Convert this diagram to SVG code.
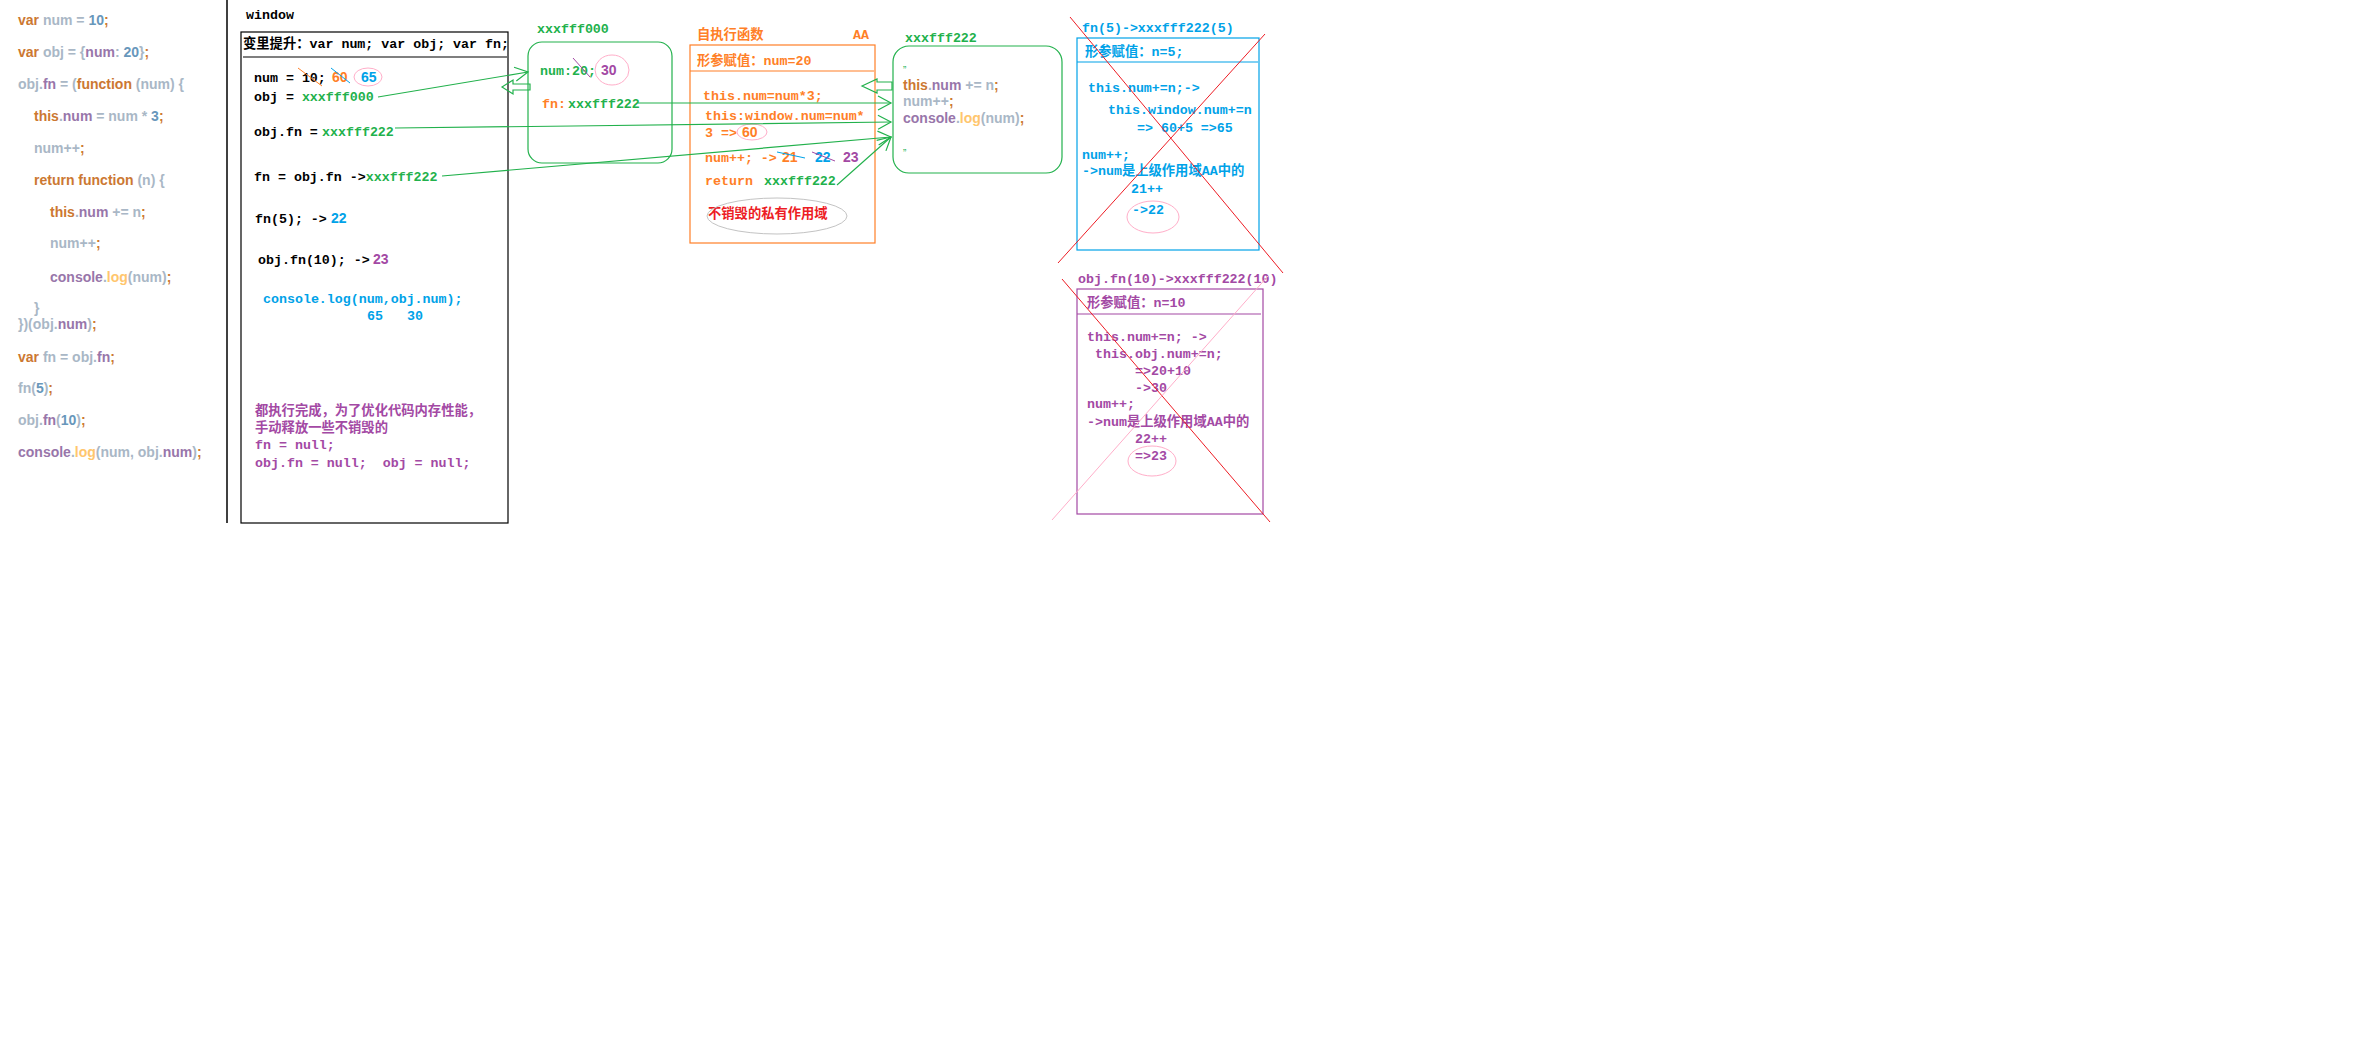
<svg xmlns="http://www.w3.org/2000/svg" width="2374" height="1054" viewBox="0 0 2374 1054">
  <style>
    text { white-space: pre; }
    .code { font-family: "Liberation Sans", Arial, sans-serif; font-weight: bold; font-size: 14px; }
    .kw { fill: #cc7832; }
    .tx { fill: #a9b7c6; }
    .nu { fill: #6897bb; }
    .pr { fill: #9876aa; }
    .fc { fill: #ffc66d; }
    .m { font-family: "Liberation Mono", "Noto Sans CJK SC", monospace; font-weight: bold; font-size: 13.3px; }
    .s { font-family: "Liberation Sans", Arial, sans-serif; font-weight: bold; font-size: 14px; }
    .blk { fill: #000000; }
    .grn { fill: #22b14c; }
    .org { fill: #ff7f27; }
    .blu { fill: #00a2e8; }
    .pur { fill: #a349a4; }
    .red { fill: #ed1c24; }
    .ring { fill: none; stroke: #ffaec9; stroke-width: 1; }
    .link { fill: none; stroke: #22b14c; stroke-width: 1.2; }
    .cross { stroke: #ed1c24; stroke-width: 1; }
  </style>
  <defs>
    <marker id="open" viewBox="-14 -8 16 16" refX="0" refY="0" markerWidth="16" markerHeight="16" markerUnits="userSpaceOnUse" orient="auto">
      <path d="M-13,-7 L0,0 L-13,7" fill="none" stroke="#22b14c" stroke-width="1.2"/>
    </marker>
  </defs>
  <rect width="2374" height="1054" fill="#ffffff"/>

  <!-- source code listing -->
  <g id="source">
    <text class="code" x="18" y="25"><tspan class="kw">var</tspan><tspan class="tx"> num = </tspan><tspan class="nu">10</tspan><tspan class="kw">;</tspan></text>
    <text class="code" x="18" y="57"><tspan class="kw">var</tspan><tspan class="tx"> obj = {</tspan><tspan class="pr">num</tspan><tspan class="tx">: </tspan><tspan class="nu">20</tspan><tspan class="tx">}</tspan><tspan class="kw">;</tspan></text>
    <text class="code" x="18" y="89"><tspan class="tx">obj.</tspan><tspan class="pr">fn</tspan><tspan class="tx"> = (</tspan><tspan class="kw">function</tspan><tspan class="tx"> (num) {</tspan></text>
    <text class="code" x="34" y="121"><tspan class="kw">this</tspan><tspan class="tx">.</tspan><tspan class="pr">num</tspan><tspan class="tx"> = num * </tspan><tspan class="nu">3</tspan><tspan class="kw">;</tspan></text>
    <text class="code" x="34" y="153"><tspan class="tx">num++</tspan><tspan class="kw">;</tspan></text>
    <text class="code" x="34" y="185"><tspan class="kw">return function</tspan><tspan class="tx"> (n) {</tspan></text>
    <text class="code" x="50" y="217"><tspan class="kw">this</tspan><tspan class="tx">.</tspan><tspan class="pr">num</tspan><tspan class="tx"> += n</tspan><tspan class="kw">;</tspan></text>
    <text class="code" x="50" y="248"><tspan class="tx">num++</tspan><tspan class="kw">;</tspan></text>
    <text class="code" x="50" y="282"><tspan class="pr">console</tspan><tspan class="tx">.</tspan><tspan class="fc">log</tspan><tspan class="tx">(num)</tspan><tspan class="kw">;</tspan></text>
    <text class="code" x="34" y="313"><tspan class="tx">}</tspan></text>
    <text class="code" x="18" y="329"><tspan class="tx">})(obj.</tspan><tspan class="pr">num</tspan><tspan class="tx">)</tspan><tspan class="kw">;</tspan></text>
    <text class="code" x="18" y="362"><tspan class="kw">var</tspan><tspan class="tx"> fn = obj.</tspan><tspan class="pr">fn</tspan><tspan class="kw">;</tspan></text>
    <text class="code" x="18" y="393"><tspan class="tx">fn(</tspan><tspan class="nu">5</tspan><tspan class="tx">)</tspan><tspan class="kw">;</tspan></text>
    <text class="code" x="18" y="425"><tspan class="tx">obj.</tspan><tspan class="pr">fn</tspan><tspan class="tx">(</tspan><tspan class="nu">10</tspan><tspan class="tx">)</tspan><tspan class="kw">;</tspan></text>
    <text class="code" x="18" y="457"><tspan class="pr">console</tspan><tspan class="tx">.</tspan><tspan class="fc">log</tspan><tspan class="tx">(num, obj.</tspan><tspan class="pr">num</tspan><tspan class="tx">)</tspan><tspan class="kw">;</tspan></text>
    <line x1="227" y1="0" x2="227" y2="523" stroke="#000000" stroke-width="1.5"/>
  </g>

  <!-- global scope -->
  <g id="window">
    <text class="m blk" x="246" y="19">window</text>
    <rect x="241" y="32" width="267" height="491" fill="none" stroke="#000000" stroke-width="1.2"/>
    <text class="m blk" x="243" y="48">变里提升：var num; var obj; var fn;</text>
    <line x1="243" y1="57" x2="507" y2="57" stroke="#000000" stroke-width="1.2"/>
    <text class="m blk" x="254" y="82">num = 10;</text>
    <line x1="298" y1="68" x2="322" y2="86" stroke="#ff7f27" stroke-width="1"/>
    <text class="s org" x="332" y="82">60</text>
    <line x1="331" y1="68" x2="350" y2="83" stroke="#00a2e8" stroke-width="1"/>
    <text class="s blu" x="361" y="82">65</text>
    <ellipse class="ring" cx="368" cy="77" rx="14" ry="9"/>
    <text class="m blk" x="254" y="101">obj = <tspan class="grn">xxxfff000</tspan></text>
    <text class="m blk" x="254" y="136">obj.fn =</text>
    <text class="m grn" x="322" y="136">xxxfff222</text>
    <text class="m blk" x="254" y="181">fn = obj.fn -&gt;<tspan class="grn">xxxfff222</tspan></text>
    <text class="m blk" x="255" y="223">fn(5); -&gt;</text>
    <text class="s blu" x="331" y="223" font-weight="normal">22</text>
    <text class="m blk" x="258" y="264">obj.fn(10); -&gt;</text>
    <text class="s pur" x="373" y="264" font-weight="normal">23</text>
    <text class="m blu" x="263" y="303">console.log(num,obj.num);</text>
    <text class="m blu" x="367" y="320">65</text>
    <text class="m blu" x="407" y="320">30</text>
    <text class="m pur" x="255" y="415">都执行完成，为了优化代码内存性能，</text>
    <text class="m pur" x="255" y="432">手动释放一些不销毁的</text>
    <text class="m pur" x="255" y="449">fn = null;</text>
    <text class="m pur" x="255" y="467">obj.fn = null;  obj = null;</text>
  </g>

  <!-- heap object xxxfff000 -->
  <g id="obj000">
    <text class="m grn" x="537" y="33">xxxfff000</text>
    <rect x="528" y="42" width="144" height="121" rx="14" ry="14" fill="none" stroke="#22b14c" stroke-width="1.2"/>
    <text class="m grn" x="540" y="75">num:20;</text>
    <line x1="573" y1="58" x2="590" y2="77" stroke="#a349a4" stroke-width="1"/>
    <text class="s pur" x="601" y="75">30</text>
    <ellipse class="ring" cx="612" cy="70" rx="17" ry="15"/>
    <text class="m org" x="542" y="108">fn:</text>
    <text class="m grn" x="568" y="108">xxxfff222</text>
  </g>

  <!-- self-invoking function scope AA -->
  <g id="scopeAA">
    <text class="m org" x="697" y="39">自执行函数</text>
    <text class="m org" x="853" y="39">AA</text>
    <rect x="690" y="45" width="185" height="198" fill="none" stroke="#ff7f27" stroke-width="1.2"/>
    <text class="m org" x="697" y="65">形参赋值：num=20</text>
    <line x1="690" y1="71" x2="874" y2="71" stroke="#ff7f27" stroke-width="1.2"/>
    <text class="m org" x="703" y="100">this.num=num*3;</text>
    <text class="m org" x="705" y="120">this:window.num=num*</text>
    <text class="m org" x="705" y="137">3 =&gt;</text>
    <text class="s org" x="742" y="137" font-weight="normal">60</text>
    <ellipse class="ring" cx="752" cy="132" rx="15" ry="8"/>
    <text class="m org" x="705" y="162">num++; -&gt;</text>
    <text class="s org" x="782" y="162" font-weight="normal">21</text>
    <line x1="777" y1="152" x2="805" y2="158" stroke="#00a2e8" stroke-width="1"/>
    <text class="s blu" x="815" y="162" font-weight="normal">22</text>
    <line x1="812" y1="152" x2="835" y2="161" stroke="#a349a4" stroke-width="1"/>
    <text class="s pur" x="843" y="162" font-weight="normal">23</text>
    <text class="m org" x="705" y="185">return</text>
    <text class="m grn" x="764" y="185">xxxfff222</text>
    <text class="m red" x="708" y="218">不销毁的私有作用域</text>
    <ellipse cx="777" cy="216" rx="70" ry="18" fill="none" stroke="#c3c3c3" stroke-width="1"/>
  </g>

  <!-- heap function xxxfff222 -->
  <g id="fn222">
    <text class="m grn" x="905" y="42">xxxfff222</text>
    <rect x="893" y="46" width="169" height="127" rx="16" ry="16" fill="none" stroke="#22b14c" stroke-width="1.2"/>
    <text class="grn" x="903" y="67" font-family="Liberation Sans, sans-serif" font-size="10">„</text>
    <text class="code" x="903" y="90"><tspan class="kw">this</tspan><tspan class="tx">.</tspan><tspan class="pr">num</tspan><tspan class="tx"> += n</tspan><tspan class="kw">;</tspan></text>
    <text class="code" x="903" y="106"><tspan class="tx">num++</tspan><tspan class="kw">;</tspan></text>
    <text class="code" x="903" y="123"><tspan class="pr">console</tspan><tspan class="tx">.</tspan><tspan class="fc">log</tspan><tspan class="tx">(num)</tspan><tspan class="kw">;</tspan></text>
    <text class="grn" x="903" y="150" font-family="Liberation Sans, sans-serif" font-size="10">„</text>
  </g>

  <!-- call fn(5) -->
  <g id="call5">
    <text class="m blu" x="1082" y="32">fn(5)-&gt;xxxfff222(5)</text>
    <rect x="1077" y="38" width="182" height="212" fill="none" stroke="#00a2e8" stroke-width="1.2"/>
    <text class="m blu" x="1085" y="56">形参赋值：n=5;</text>
    <line x1="1077" y1="62" x2="1258" y2="62" stroke="#00a2e8" stroke-width="1.2"/>
    <text class="m blu" x="1088" y="92">this.num+=n;-&gt;</text>
    <text class="m blu" x="1108" y="114">this.window.num+=n</text>
    <text class="m blu" x="1137" y="132">=&gt; 60+5 =&gt;65</text>
    <text class="m blu" x="1082" y="159">num++;</text>
    <text class="m blu" x="1082" y="175">-&gt;num是上级作用域AA中的</text>
    <text class="m blu" x="1131" y="193">21++</text>
    <text class="m blu" x="1132" y="214">-&gt;22</text>
    <ellipse class="ring" cx="1153" cy="217" rx="26" ry="16"/>
    <line class="cross" x1="1070" y1="17" x2="1283" y2="273"/>
    <line class="cross" x1="1265" y1="34" x2="1058" y2="263"/>
  </g>

  <!-- call obj.fn(10) -->
  <g id="call10">
    <text class="m pur" x="1078" y="283">obj.fn(10)-&gt;xxxfff222(10)</text>
    <rect x="1077" y="289" width="186" height="225" fill="none" stroke="#a349a4" stroke-width="1.2"/>
    <text class="m pur" x="1087" y="307">形参赋值：n=10</text>
    <line x1="1077" y1="314" x2="1261" y2="314" stroke="#a349a4" stroke-width="1.2"/>
    <text class="m pur" x="1087" y="341">this.num+=n; -&gt;</text>
    <text class="m pur" x="1095" y="358">this.obj.num+=n;</text>
    <text class="m pur" x="1135" y="375">=&gt;20+10</text>
    <text class="m pur" x="1135" y="392">-&gt;30</text>
    <text class="m pur" x="1087" y="408">num++;</text>
    <text class="m pur" x="1087" y="426">-&gt;num是上级作用域AA中的</text>
    <text class="m pur" x="1135" y="443">22++</text>
    <text class="m pur" x="1135" y="460">=&gt;23</text>
    <ellipse class="ring" cx="1152" cy="461" rx="24" ry="15"/>
    <line class="cross" x1="1062" y1="279" x2="1270" y2="522"/>
    <line x1="1268" y1="276" x2="1052" y2="520" stroke="#ffaec9" stroke-width="1"/>
  </g>

  <!-- references between scopes and heap -->
  <g id="connectors">
    <path class="link" d="M378,97 L528,72" marker-end="url(#open)"/>
    <polygon class="link" points="502,87 513,80 513,84 530,84 530,90 513,90 513,94"/>
    <polygon class="link" points="862,86 877,79 877,82 892,82 892,90 877,90 877,93"/>
    <path class="link" d="M638,103 L891,103" marker-end="url(#open)"/>
    <path class="link" d="M395,128 L573,126 L891,122" marker-end="url(#open)"/>
    <path class="link" d="M442,176 L891,137" marker-end="url(#open)"/>
    <path class="link" d="M837,185 L891,137" marker-end="url(#open)"/>
  </g>
</svg>
